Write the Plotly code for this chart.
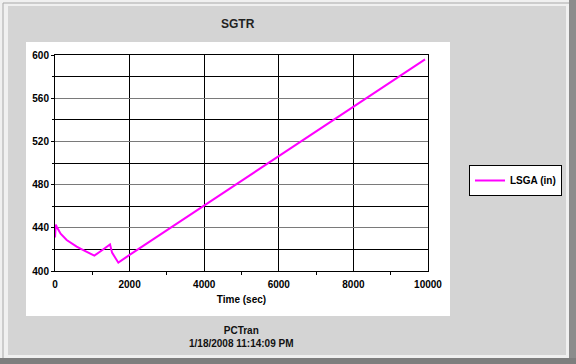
import plotly.graph_objects as go

# Data
time_sec = [0, 20, 45, 150, 313, 450, 581, 720, 849, 960, 1055, 1270, 1475, 1530, 1698, 2000, 4000, 6000, 8000, 9920]
lsga_in = [431, 443, 441, 434.5, 428.7, 425.3, 422.5, 420.0, 417.9, 416.0, 414.2, 419.5, 424.7, 417, 407.7, 414.9, 460.6, 506.3, 552.0, 596.0]

series_name = "LSGA (in)"
title_text = "SGTR"
x_title = "Time (sec)"
footer_lines = ["PCTran", "1/18/2008 11:14:09 PM"]

W, H = 576, 364
L, R, T, B = 55, 428, 55, 271  # plot area in pixels


def px(x):
    return (x - L) / (R - L)


def py(y):
    return (B - y) / (B - T)


def rect(x0, y0, x1, y1, fill=None, line=None, lw=1):
    return dict(type="rect", xref="paper", yref="paper", layer="below",
                x0=px(x0), x1=px(x1), y0=py(y1), y1=py(y0),
                fillcolor=fill if fill else "rgba(0,0,0,0)",
                line=dict(color=line if line else "rgba(0,0,0,0)", width=lw if line else 0))


font_fam = "Liberation Sans, Arial, sans-serif"

fig = go.Figure()
fig.add_trace(go.Scatter(
    x=time_sec, y=lsga_in, mode="lines", name=series_name,
    line=dict(color="#ff00ff", width=2),
    showlegend=True,
))

shapes = [
    rect(0, 0, 576, 364, fill="#f0f0f0"),
    rect(3, 3, 575, 363, line="#a8a8a8"),
    rect(569, 0, 576, 364, fill="#8c8c8c"),
    rect(0, 358, 576, 364, fill="#7e7e7e"),
    rect(8, 6, 566, 355, fill="#d4d4d4"),
    rect(26, 42, 450, 316, fill="#ffffff"),
]

annotations = [
    dict(text="<b>" + title_text + "</b>", xref="paper", yref="paper",
         x=px(238), y=py(24), xanchor="center", yanchor="middle",
         showarrow=False, font=dict(size=12, color="#222")),
    dict(text="<b>" + footer_lines[0] + "<br>" + footer_lines[1] + "</b>", xref="paper", yref="paper",
         x=px(241), y=py(337), xanchor="center", yanchor="middle",
         showarrow=False, font=dict(size=10, color="#111"), align="center"),
]

fig.update_layout(
    width=W, height=H,
    margin=dict(l=L, r=W - R, t=T, b=H - B, pad=0),
    paper_bgcolor="#d4d4d4", plot_bgcolor="#ffffff",
    font=dict(family=font_fam, size=10, color="#000"),
    shapes=shapes, annotations=annotations,
    legend=dict(x=px(469), y=py(165), xanchor="left", yanchor="top",
                bgcolor="#ffffff", bordercolor="#000", borderwidth=1,
                font=dict(size=10, weight="bold"), itemwidth=30,
                tracegroupgap=0),
    showlegend=True,
)

fig.update_xaxes(
    range=[0, 10000], dtick=2000, tick0=0, tickformat="d",
    showgrid=True, gridcolor="#000", gridwidth=1,
    showline=True, linecolor="#000", linewidth=1, mirror=True,
    ticks="outside", ticklen=0, tickcolor="#000", ticklabelstandoff=4,
    tickfont=dict(size=10, weight="bold"),
    minor=dict(dtick=1000, ticks="outside", ticklen=3, tickcolor="#000", showgrid=False),
    zeroline=False,
    title=dict(text=x_title, font=dict(size=10, weight="bold"), standoff=6),
)
fig.update_yaxes(
    range=[400, 600], dtick=40, tick0=400,
    showgrid=True, gridcolor="#7a7a7a", gridwidth=1,
    showline=True, linecolor="#000", linewidth=1, mirror=True,
    ticks="outside", ticklen=3, tickcolor="#000",
    tickfont=dict(size=10, weight="bold"),
    minor=dict(dtick=20, ticks="outside", ticklen=2, tickcolor="#000", showgrid=True, gridcolor="#000", gridwidth=1),
    zeroline=False,
)

fig.write_html("out.html")
